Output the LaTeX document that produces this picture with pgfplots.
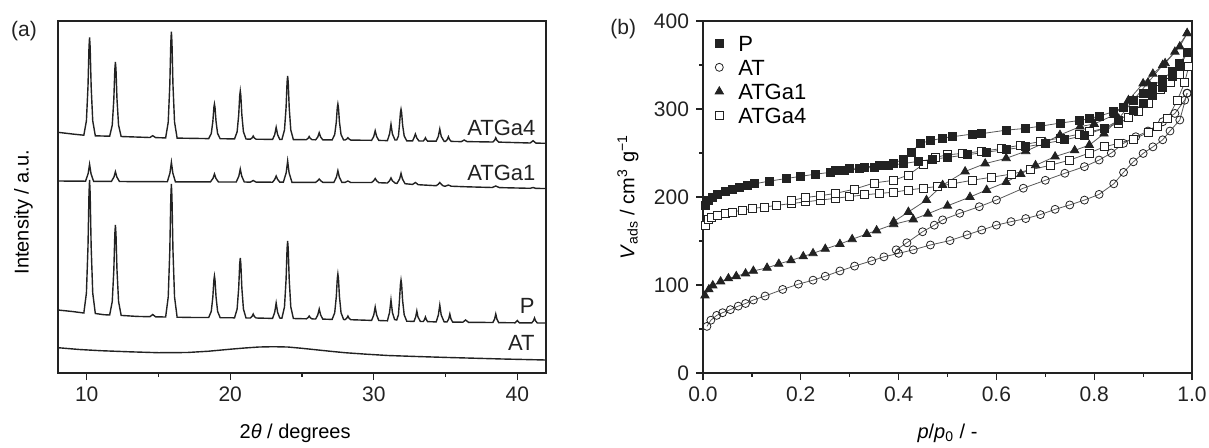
\documentclass[border=0pt]{standalone}
\usepackage{fontspec}
\setmainfont{Liberation Sans}
\usepackage{pgfplots}
\pgfplotsset{compat=1.18}
\definecolor{ink}{HTML}{222222}

\pgfplotsset{
  panel/.style={
    scale only axis, width=244pt, height=176pt,
    axis line style={ink, line width=0.6pt},
    tick style={ink, line width=0.6pt},
    tick align=outside,
    xtick pos=left, ytick pos=left,
    major tick length=3.5pt, minor tick length=1.8pt,
    ticklabel style={font=\fontsize{10.5}{12}\selectfont, text=ink},
    label style={font=\fontsize{11}{13}\selectfont, text=ink},
    /pgf/number format/assume math mode=true,
  },
  xrd/.style={ink, line width=0.7pt, mark=none},
  iso/.style={ink!75, line width=0.4pt, forget plot},
  mP/.style={iso, mark=square*, mark size=2pt, mark options={solid, fill=ink, draw=ink}},
  mAT/.style={iso, mark=o, mark size=2pt, mark options={solid, fill=white, draw=ink, line width=0.4pt}},
  mG1/.style={iso, mark=triangle*, mark size=2.4pt, mark options={solid, fill=ink, draw=ink}},
  mG4/.style={iso, mark=square*, mark size=2pt, mark options={solid, fill=white, draw=ink, line width=0.4pt}},
}

\begin{document}
\begin{tikzpicture}
\useasboundingbox (-29pt,-37pt) rectangle (575.5pt,186.5pt);

% (a) XRD patterns
\begin{axis}[panel, at={(0,0)}, anchor=south west,
  xmin=8, xmax=42, ymin=0, ymax=352,
  xtick={10,20,30,40}, minor xtick={15,25,35}, ytick=\empty,
  xlabel={2\textit{θ} / degrees}, ylabel={Intensity / a.u.},
  every axis x label/.style={at={(axis description cs:0.486,-0.1847)}, anchor=base},
  every axis y label/.style={at={(axis description cs:-0.071,0.457)}, anchor=center, rotate=90},
]
% ATGa4
\addplot[xrd] coordinates {(8,240.7)(9,239)(9.8,237.8)(9.98,252.2)(10.09,286.6)(10.16,325.9)(10.2,335.7)(10.24,325.9)(10.31,286.6)(10.42,252.2)(10.6,237.2)(11.6,236.8)(11.78,247.8)(11.89,273.9)(11.96,303.6)(12,311)(12.04,303.6)(12.11,273.9)(12.22,247.8)(12.4,236.5)(14.4,235.5)(14.6,237.3)(14.8,235.4)(15.5,235.1)(15.68,250.9)(15.79,288.2)(15.86,330.7)(15.9,341.3)(15.94,330.7)(16.01,288.2)(16.12,250.9)(16.3,234.9)(18.5,234.4)(18.68,239.5)(18.79,251.7)(18.86,265.5)(18.9,269)(18.94,265.5)(19.01,251.7)(19.12,239.5)(19.3,234.3)(20.3,234.1)(20.48,241.2)(20.59,258)(20.66,277.2)(20.7,282)(20.74,277.2)(20.81,258)(20.92,241.2)(21.1,234)(21.4,233.8)(21.52,235)(21.6,237)(21.68,235)(21.8,233.8)(22.95,233.6)(23.1,238.4)(23.2,245.7)(23.3,238.4)(23.45,233.6)(23.6,233.5)(23.78,243)(23.89,265.3)(23.96,290.7)(24,297)(24.04,290.7)(24.11,265.3)(24.22,243)(24.4,233.4)(25.3,233.3)(25.42,234.6)(25.5,236.5)(25.58,234.6)(25.7,233.3)(25.95,233.2)(26.1,236)(26.2,240.3)(26.3,236)(26.45,233.2)(27.1,233.1)(27.28,238.5)(27.39,251)(27.46,265.4)(27.5,269)(27.54,265.4)(27.61,251)(27.72,238.5)(27.9,233)(28,233)(28.12,234)(28.2,235.3)(28.28,234)(28.4,232.9)(29.85,232.7)(30,236.5)(30.1,242.3)(30.2,236.5)(30.35,232.6)(30.95,232.4)(31.1,239)(31.2,248.7)(31.3,239)(31.48,233)(31.6,233)(31.72,237)(31.79,248)(31.86,260.6)(31.9,263.7)(31.94,260.6)(32.01,248)(32.12,237)(32.3,232.2)(32.7,232.1)(32.8,235)(32.9,239)(33,235)(33.15,232)(33.45,232)(33.53,233.3)(33.6,235.3)(33.67,233.3)(33.75,231.9)(34.35,231.8)(34.5,236.7)(34.6,244)(34.7,236.7)(34.9,231.7)(35,231.7)(35.12,233.5)(35.2,236.3)(35.28,233.5)(35.4,231.6)(36.1,231.4)(36.3,233)(36.5,231.4)(38.3,231)(38.42,232.7)(38.5,235.3)(38.58,232.7)(38.7,230.9)(40.9,230)(41.1,232.3)(41.3,229.9)(42,229.7)};
% ATGa1
\addplot[xrd] coordinates {(8,192)(9,191.9)(9.92,191.8)(10.1,199.4)(10.2,208.7)(10.3,199.4)(10.48,191.7)(11.72,191.6)(11.9,196)(12,201.3)(12.1,196)(12.28,191.5)(13.5,191.4)(15.62,191.3)(15.8,200)(15.9,210.7)(16,200)(16.18,191.2)(18.62,191.1)(18.8,194.7)(18.9,199)(19,194.7)(19.18,191)(20.42,191)(20.6,196.9)(20.7,204)(20.8,196.9)(20.98,191)(21.4,190.9)(21.6,192.5)(21.8,190.9)(22.95,190.8)(23.1,193.6)(23.2,197)(23.3,193.6)(23.45,190.9)(23.7,190.8)(23.9,200.3)(24,212)(24.1,200.3)(24.3,190.7)(25.95,190.7)(26.1,192.3)(26.2,194)(26.3,192.3)(26.45,190.7)(27.22,190.6)(27.4,195.9)(27.5,202.3)(27.6,195.9)(27.78,190.6)(28,190.6)(28.2,192)(28.4,190.5)(29.85,190.5)(30,192.3)(30.1,194.5)(30.2,192.3)(30.35,190.3)(30.95,190)(31.1,192.2)(31.2,195)(31.3,192.2)(31.5,189.8)(31.62,189.6)(31.8,194)(31.9,199.7)(32,194)(32.18,189.3)(32.7,188.6)(32.9,190.5)(33.1,188.3)(34.35,187.3)(34.5,188.8)(34.6,190.5)(34.7,188.8)(34.85,187)(35,186.9)(35.2,188)(35.4,186.8)(36.5,186.2)(38.25,185.5)(38.5,187)(38.75,185.4)(40.9,184.7)(41.1,185.5)(41.3,184.6)(42,184.5)};
% P
\addplot[xrd] coordinates {(8,63)(9,61.5)(9.8,60)(9.98,80)(10.09,126.5)(10.16,179.7)(10.2,193)(10.24,179.7)(10.31,126.5)(10.42,80)(10.6,59.5)(11.2,58.3)(11.6,58)(11.78,71.5)(11.89,103)(11.96,139)(12,148)(12.04,139)(12.11,103)(12.22,71.5)(12.4,57.6)(13.5,56.6)(14.4,56.3)(14.6,58.5)(14.8,56.2)(15.5,56)(15.68,76)(15.79,122.5)(15.86,175.7)(15.9,189)(15.94,175.7)(16.01,122.5)(16.12,76)(16.3,55.8)(17.5,55.5)(18.5,55.5)(18.68,61.7)(18.79,76.3)(18.86,92.9)(18.9,97)(18.94,92.9)(19.01,76.3)(19.12,61.7)(19.3,55.3)(20.3,55.2)(20.48,64)(20.59,85)(20.66,109)(20.7,115)(20.74,109)(20.81,85)(20.92,64)(21.1,55)(21.4,55)(21.52,56.6)(21.6,59)(21.68,56.6)(21.8,55)(22.95,54.6)(23.1,60.8)(23.2,70)(23.3,60.8)(23.45,55)(23.6,54.8)(23.78,66.1)(23.89,93.3)(23.96,124.3)(24,132)(24.04,124.3)(24.11,93.3)(24.22,66.1)(24.4,54.5)(25.3,54.2)(25.42,55.3)(25.5,57)(25.58,55.3)(25.7,54.1)(25.95,54)(26.1,58)(26.2,64)(26.3,58)(26.45,53.9)(27.1,53.6)(27.28,60.3)(27.39,76.3)(27.46,94.5)(27.5,99)(27.54,94.5)(27.61,76.3)(27.72,60.3)(27.9,53.5)(28,53.4)(28.12,54.8)(28.2,57)(28.28,54.8)(28.4,53.3)(29.85,52.6)(30,58)(30.1,66)(30.2,58)(30.35,52.5)(30.95,52.2)(31.1,60.5)(31.2,73)(31.3,60.5)(31.45,53.5)(31.6,53)(31.72,58.2)(31.79,72.5)(31.86,88.9)(31.9,93)(31.94,88.9)(32.01,72.5)(32.12,58.2)(32.3,51.8)(32.8,51.6)(32.92,56)(33,62)(33.08,56)(33.25,51.5)(33.45,51.5)(33.53,53.3)(33.6,56)(33.67,53.3)(33.75,51.4)(34.35,51.1)(34.5,58)(34.6,68)(34.7,58)(34.9,51.2)(35.1,51)(35.22,54)(35.3,59)(35.38,54)(35.5,50.9)(36.2,50.8)(36.4,53)(36.6,50.7)(38.3,50.5)(38.42,54)(38.5,59)(38.58,54)(38.7,50.4)(39.85,50.2)(40,52.5)(40.15,50.2)(41,50.1)(41.12,52)(41.2,55)(41.28,52)(41.4,50)(42,50)};
% AT
\addplot[xrd] coordinates {(8,25.3)(9.5,23.5)(11,22.3)(13,21.2)(15,20.3)(17,20.5)(18.5,21.8)(20,23.8)(21,25)(22,26)(23,26.3)(24,26)(25,24.7)(26,23.2)(27,21.7)(28,20.3)(29.5,18.8)(31,17.5)(33,16.5)(35,15.6)(37,14.8)(39,14)(40.5,13.5)(42,13)};
\node[anchor=base east, font=\fontsize{11}{13}\selectfont, text=ink] at (axis cs:41.75,238) {ATGa4};
\node[anchor=base east, font=\fontsize{11}{13}\selectfont, text=ink] at (axis cs:41.75,192.3) {ATGa1};
\node[anchor=base east, font=\fontsize{11}{13}\selectfont, text=ink] at (axis cs:41.7,59.7) {P};
\node[anchor=base east, font=\fontsize{11}{13}\selectfont, text=ink] at (axis cs:41.7,22.3) {AT};
\end{axis}

% (b) N2 isotherms
\begin{axis}[panel, at={(322.5pt,0)}, anchor=south west, width=244.5pt,
  xmin=0, xmax=1, ymin=0, ymax=400, clip=false,
  xtick={0,0.2,...,1.0}, minor xtick={0.1,0.3,0.5,0.7,0.9},
  ytick={0,100,200,300,400}, minor ytick={50,150,250,350},
  xticklabel style={/pgf/number format/fixed, /pgf/number format/fixed zerofill, /pgf/number format/precision=1},
  xlabel={\textit{p}/\textit{p}\textsubscript{0} / -},
  ylabel={\textit{V}\textsubscript{ads} / cm\textsuperscript{3} g\textsuperscript{−1}},
  every axis x label/.style={at={(axis description cs:0.5,-0.1847)}, anchor=base},
  every axis y label/.style={at={(axis description cs:-0.1534,0.5)}, anchor=center, rotate=90},
  legend style={at={(axis description cs:0.024,0.969)}, anchor=north west, draw=none, fill=none,
    font=\fontsize{11}{13}\selectfont, row sep=1.3pt, column sep=6pt, inner sep=0pt,
    nodes={text height=8pt, text depth=0pt, inner sep=1.4pt}},
  legend cell align=left,
]
\addlegendimage{only marks, mark=square*, mark size=2pt, mark options={fill=ink, draw=ink}}
\addlegendentry{P}
\addlegendimage{only marks, mark=o, mark size=2pt, mark options={fill=white, draw=ink, line width=0.4pt}}
\addlegendentry{AT}
\addlegendimage{only marks, mark=triangle*, mark size=2.4pt, mark options={fill=ink, draw=ink}}
\addlegendentry{ATGa1}
\addlegendimage{only marks, mark=square*, mark size=2pt, mark options={fill=white, draw=ink, line width=0.4pt}}
\addlegendentry{ATGa4}
% AT
\addplot[mAT] coordinates {(0.008,53)(0.016,60)(0.028,65.5)(0.04,68.5)(0.056,72)(0.072,76)(0.087,79)(0.103,83)(0.127,87.5)(0.163,95)(0.195,101)(0.225,105.5)(0.25,110)(0.28,116)(0.31,121.5)(0.345,127.5)(0.37,132)(0.4,136)(0.43,140)(0.465,145.5)(0.505,150.5)(0.54,157)(0.57,162.5)(0.6,168)(0.63,172)(0.66,175.5)(0.69,180)(0.72,186)(0.75,191)(0.78,196.5)(0.81,203)(0.84,215)(0.86,228)(0.88,240)(0.9,249.5)(0.92,257)(0.94,265)(0.955,275)(0.975,287.5)(0.99,318)};
\addplot[mAT] coordinates {(0.99,318)(0.985,310)(0.965,295)(0.94,285.5)(0.91,275)(0.885,268.5)(0.86,261)(0.835,250)(0.81,242)(0.78,234.5)(0.74,227)(0.7,219)(0.655,210)(0.6,196.6)(0.565,189)(0.525,181.5)(0.49,174)(0.473,168)(0.449,160.5)(0.417,148)(0.395,140)};
% ATGa4
\addplot[mG4] coordinates {(0.005,168)(0.01,174)(0.018,177)(0.03,179.5)(0.045,181.5)(0.06,183)(0.08,185)(0.1,187)(0.125,188.5)(0.15,190.5)(0.18,192.5)(0.21,194.5)(0.24,196.5)(0.27,198.5)(0.3,200.5)(0.33,202.5)(0.36,204)(0.39,205.5)(0.42,208)(0.45,210)(0.48,212)(0.51,215)(0.55,219)(0.59,222.5)(0.63,226)(0.67,231)(0.71,236)(0.75,242)(0.79,250)(0.82,257)(0.85,261)(0.88,266)(0.91,273)(0.93,280)(0.95,289)(0.97,310)(0.985,330)(0.993,348)};
\addplot[mG4] coordinates {(0.993,348)(0.975,339)(0.955,330)(0.935,322)(0.91,306)(0.89,297)(0.87,290)(0.85,284)(0.82,278)(0.79,274)(0.77,271.5)(0.73,267)(0.69,263)(0.65,259)(0.61,255)(0.57,252)(0.53,249.5)(0.5,248)(0.475,245)(0.45,237)(0.42,225)(0.39,219)(0.35,216)(0.31,209)(0.27,204)(0.24,201.5)(0.21,199.5)(0.18,196)};
% ATGa1
\addplot[mG1] coordinates {(0.004,88)(0.012,95)(0.02,99.5)(0.036,104)(0.052,107.5)(0.068,110)(0.087,113)(0.103,116)(0.131,119.5)(0.155,124)(0.18,128)(0.205,132.5)(0.225,136)(0.25,141)(0.28,146.5)(0.305,152)(0.335,158)(0.355,162)(0.39,169)(0.43,174.5)(0.46,181)(0.5,190)(0.546,200)(0.58,208)(0.62,217)(0.65,226)(0.68,236)(0.72,246)(0.76,253)(0.79,259)(0.82,272)(0.85,289)(0.88,310)(0.91,330)(0.94,350)(0.965,365)(0.99,386)};
\addplot[mG1] coordinates {(0.99,386)(0.975,371)(0.945,352)(0.92,340)(0.9,329)(0.87,310)(0.84,293)(0.8,283)(0.771,280)(0.73,270.5)(0.7,262)(0.66,252)(0.62,244)(0.577,238)(0.536,229)(0.49,213.5)(0.457,196.5)(0.42,183)(0.39,172)};
% P
\addplot[mP] coordinates {(0.005,191)(0.012,196)(0.02,199.5)(0.03,203)(0.045,206)(0.06,208.5)(0.075,211)(0.09,213)(0.105,215)(0.135,218)(0.17,221)(0.2,223.5)(0.23,226)(0.26,228)(0.29,230)(0.32,232)(0.35,234)(0.38,236)(0.41,238)(0.44,240.5)(0.47,243)(0.5,245)(0.54,248)(0.58,251)(0.62,254)(0.66,257)(0.7,261)(0.74,265)(0.78,270)(0.82,278)(0.85,287)(0.88,298)(0.9,306)(0.92,315)(0.94,325)(0.96,337)(0.975,348)(0.99,364)};
\addplot[mP] coordinates {(0.99,364)(0.975,352)(0.96,343)(0.94,334)(0.92,326)(0.9,318)(0.88,310)(0.86,302)(0.84,297)(0.81,292)(0.79,289)(0.77,287)(0.73,284)(0.69,280.5)(0.66,278)(0.62,276)(0.57,272)(0.55,271.5)(0.51,268.5)(0.49,267)(0.465,264)(0.444,261)(0.427,251)(0.41,243)(0.39,238.5)(0.36,236)(0.33,234)(0.3,232)(0.27,230)};
\end{axis}

\node[font=\fontsize{10.5}{13}\selectfont, text=ink] at (-17pt,171pt) {(a)};
\node[font=\fontsize{10.5}{13}\selectfont, text=ink] at (282.6pt,172pt) {(b)};
\end{tikzpicture}
\end{document}
